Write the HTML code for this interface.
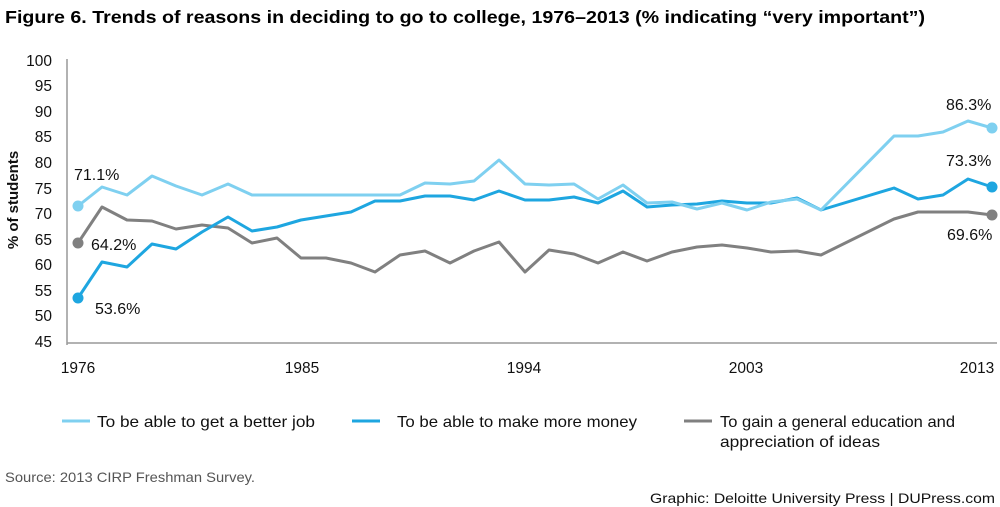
<!DOCTYPE html>
<html><head><meta charset="utf-8"><style>
body{margin:0;background:#fff;}
svg{display:block;font-family:"Liberation Sans",sans-serif;}
</style></head><body>
<svg width="1000" height="507" viewBox="0 0 1000 507">
<text x="5" y="23" font-size="17.5" font-weight="bold" fill="#000" textLength="920" lengthAdjust="spacingAndGlyphs">Figure 6. Trends of reasons in deciding to go to college, 1976–2013 (% indicating “very important”)</text>
<g font-size="15.5" fill="#111" text-anchor="end">
<text x="52" y="66">100</text><text x="52" y="91">95</text><text x="52" y="117">90</text><text x="52" y="142">85</text><text x="52" y="168">80</text><text x="52" y="194">75</text><text x="52" y="219">70</text><text x="52" y="245">65</text><text x="52" y="270">60</text><text x="52" y="296">55</text><text x="52" y="321">50</text><text x="52" y="347">45</text>
</g>
<text transform="translate(18,200) rotate(-90)" font-size="15" font-weight="bold" text-anchor="middle" fill="#111">% of students</text>
<line x1="67" y1="59" x2="67" y2="345" stroke="#999" stroke-width="1.5"/>
<line x1="67" y1="343" x2="997" y2="343" stroke="#999" stroke-width="1.5"/>
<g font-size="15.5" fill="#111" text-anchor="middle">
<text x="78" y="373">1976</text><text x="302" y="373">1985</text><text x="524" y="373">1994</text><text x="746" y="373">2003</text><text x="977" y="373">2013</text>
</g>
<g fill="none" stroke-width="3" stroke-linejoin="round">
<polyline stroke="#808080" points="78,243 102,207 127,220 152,221 176,229 202,225 228,228 252,243 277,238 301,258 326,258 351,263 375,272 400,255 425,251 450,263 474,251 499,242 525,272 549,250 574,254 598,263 623,252 647,261 672,252 697,247 722,245 747,248 771,252 797,251 821,255 894,219 918,212 943,212 968,212 992,215"/>
<polyline stroke="#1ea6e0" points="78,298 102,262 127,267 152,244 176,249 202,232 228,217 252,231 277,227 301,220 326,216 351,212 375,201 400,201 425,196 450,196 474,200 499,191 525,200 549,200 574,197 598,203 623,191 647,207 672,205 697,204 722,201 747,203 771,203 797,198 821,210 894,188 918,199 943,195 968,179 992,187"/>
<polyline stroke="#7fd0f0" points="78,206 102,187 127,195 152,176 176,186 202,195 228,184 252,195 400,195 425,183 450,184 474,181 499,160 525,184 549,185 574,184 598,199 623,185 647,203 672,202 697,209 722,203 747,210 771,202 797,199 821,210 894,136 918,136 943,132 968,121 992,128"/>
</g>
<circle cx="78" cy="206" r="5.5" fill="#7fd0f0"/><circle cx="992" cy="128" r="5.5" fill="#7fd0f0"/>
<circle cx="78" cy="298" r="5.5" fill="#1ea6e0"/><circle cx="992" cy="187" r="5.5" fill="#1ea6e0"/>
<circle cx="78" cy="243" r="5.5" fill="#808080"/><circle cx="992" cy="215" r="5.5" fill="#808080"/>
<g font-size="16" fill="#111">
<text x="74" y="180">71.1%</text><text x="91" y="250">64.2%</text><text x="95" y="314">53.6%</text>
<text x="946" y="110">86.3%</text><text x="946" y="166">73.3%</text><text x="947" y="240">69.6%</text>
</g>
<g stroke-width="3">
<line x1="62" y1="421" x2="90" y2="421" stroke="#7fd0f0"/>
<line x1="352" y1="421" x2="380" y2="421" stroke="#1ea6e0"/>
<line x1="684" y1="421" x2="712" y2="421" stroke="#808080"/>
</g>
<g font-size="16" fill="#111">
<text x="97" y="427" textLength="218" lengthAdjust="spacingAndGlyphs">To be able to get a better job</text>
<text x="397" y="427" textLength="240" lengthAdjust="spacingAndGlyphs">To be able to make more money</text>
<text x="720" y="427" textLength="235" lengthAdjust="spacingAndGlyphs">To gain a general education and</text>
<text x="720" y="447" textLength="160" lengthAdjust="spacingAndGlyphs">appreciation of ideas</text>
</g>
<text x="5" y="482" font-size="14" fill="#555" textLength="250" lengthAdjust="spacingAndGlyphs">Source: 2013 CIRP Freshman Survey.</text>
<text x="650" y="503" font-size="14" fill="#111" textLength="345" lengthAdjust="spacingAndGlyphs">Graphic: Deloitte University Press  |  DUPress.com</text>
</svg>
</body></html>
